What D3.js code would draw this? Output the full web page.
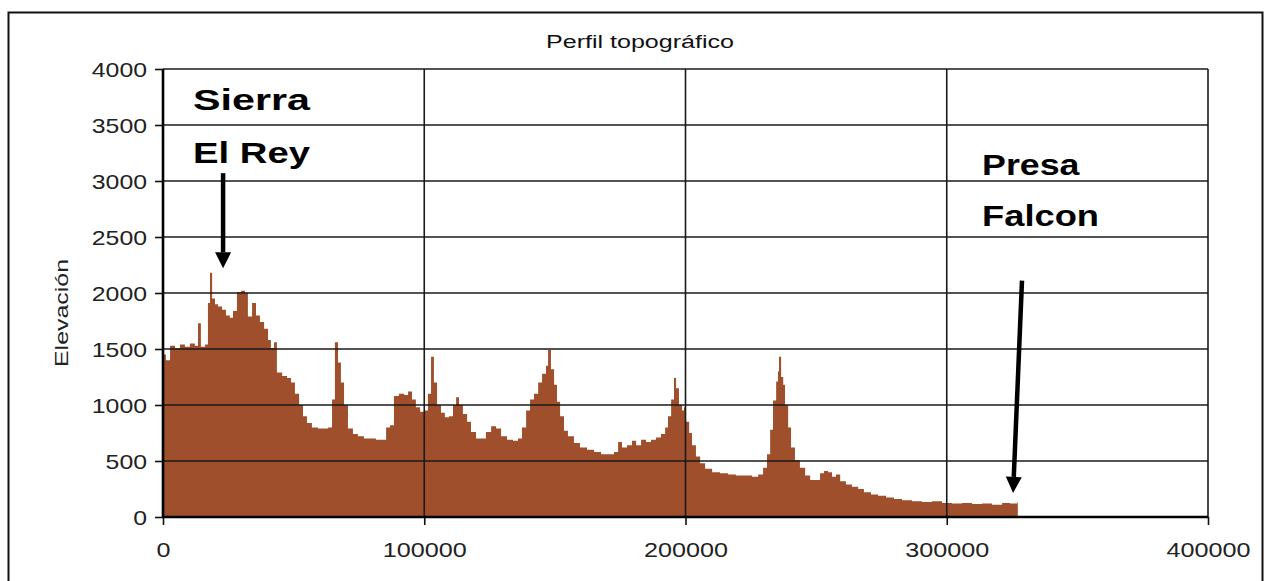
<!DOCTYPE html>
<meta charset="utf-8">
<style>
body { margin: 0; background: #fff; }
text { font-family: "Liberation Sans", Arial, sans-serif; }
.grid line { stroke: #1a1a1a; stroke-width: 1.6px; }
.axis text { fill: #222; font-size: 21px; }
.axis line { stroke: #111; stroke-width: 1.6px; }
.axis path { display: none; }
</style>
<svg width="1266" height="581"></svg>
<script src="https://d3js.org/d3.v7.min.js"></script>
<script>

var distancias = [0, 1100, 2700, 4600, 6500, 8400, 10300, 12200, 13400, 14500, 16100, 17200, 18000, 18800, 19900, 21100, 22600, 24100, 25600, 26800, 28300, 29900, 31400, 32500, 34100, 35600, 37100, 38700, 40200, 41300, 42500, 43600, 45600, 47500, 49000, 50500, 52100, 53600, 55100, 57000, 59300, 61600, 63200, 64700, 65800, 67000, 68100, 69300, 70800, 72700, 74600, 76900, 79200, 81500, 83800, 85400, 86900, 88400, 90300, 92300, 93800, 95300, 96800, 98400, 99900, 101400, 102600, 103700, 104900, 106400, 107900, 109500, 111000, 112200, 113300, 114800, 116400, 117900, 119800, 121700, 123600, 125600, 127500, 129400, 131700, 134000, 135900, 137400, 139000, 140500, 142000, 143600, 145100, 146600, 147400, 148500, 149700, 150800, 152000, 153500, 155000, 157300, 159600, 162300, 165000, 167700, 170300, 172600, 174200, 175700, 177600, 179500, 181100, 183000, 184900, 186800, 188700, 190600, 192200, 193300, 194500, 195600, 196400, 197500, 198700, 199400, 200200, 201400, 202500, 204000, 205600, 207500, 210200, 213200, 216300, 219300, 222400, 225500, 227800, 229700, 231200, 232400, 233500, 234700, 235400, 235800, 236600, 237400, 238100, 239300, 240400, 241900, 243800, 245800, 247700, 249600, 251500, 253000, 254600, 256100, 257600, 259200, 261400, 263700, 266100, 268300, 271000, 273700, 276800, 279800, 282900, 286700, 290500, 294400, 298200, 302000, 305900, 309700, 313500, 317300, 321200, 324200, 326900, 327200];
var elevaciones = [1450, 1400, 1530, 1510, 1540, 1520, 1550, 1530, 1730, 1520, 1540, 1910, 2180, 1950, 1900, 1880, 1850, 1800, 1780, 1840, 2010, 2020, 2000, 1790, 1910, 1800, 1740, 1680, 1580, 1510, 1560, 1290, 1260, 1240, 1200, 1100, 1000, 900, 840, 800, 790, 790, 800, 1050, 1560, 1380, 1200, 1000, 790, 740, 720, 700, 700, 690, 690, 800, 820, 1080, 1100, 1090, 1120, 1050, 980, 940, 950, 1100, 1430, 1200, 1000, 930, 890, 900, 1000, 1070, 1000, 920, 850, 760, 700, 700, 760, 810, 790, 720, 690, 680, 700, 800, 950, 1050, 1100, 1200, 1280, 1350, 1490, 1320, 1180, 1030, 900, 770, 720, 660, 620, 600, 580, 560, 560, 580, 670, 620, 640, 680, 640, 690, 670, 690, 710, 740, 800, 900, 1050, 1240, 1150, 1000, 950, 980, 850, 750, 640, 540, 480, 430, 400, 390, 380, 370, 370, 360, 380, 440, 560, 780, 1040, 1210, 1300, 1430, 1250, 1180, 1000, 800, 620, 510, 440, 370, 330, 330, 390, 410, 400, 360, 380, 320, 290, 270, 250, 220, 200, 190, 175, 160, 150, 140, 135, 140, 125, 120, 125, 115, 120, 110, 125, 120, 130, 0];

var yTicks = [0, 500, 1000, 1500, 2000, 2500, 3000, 3500, 4000];
var xTicks = [0, 100000, 200000, 300000, 400000];

var titulo = "Perfil topográfico";
var tituloY = "Elevación";

// etiquetas: texto, distancia, elevación de la línea base
var etiquetas = [
  ["Sierra", 11500, 3635],
  ["El Rey", 11500, 3161],
  ["Presa", 313500, 3054],
  ["Falcon", 313500, 2599]
];
// flechas: distancia y elevación de inicio y de punta
var flechas = [
  [23000, 3070, 23000, 2220],
  [328800, 2110, 325400, 215]
];

var svg = d3.select("svg");

var x = d3.scaleLinear().domain([0, 400000]).range([163, 1208]);
var y = d3.scaleLinear().domain([0, 4000]).range([517, 69]);

// marco exterior
svg.append("rect")
    .attr("x", 8.5).attr("y", 12.5)
    .attr("width", 1254).attr("height", 620)
    .attr("fill", "none").attr("stroke", "#111").attr("stroke-width", 2);

svg.append("text")
    .attr("x", 640).attr("y", 48)
    .attr("text-anchor", "middle")
    .attr("font-size", 18)
    .attr("textLength", 188)
    .attr("lengthAdjust", "spacingAndGlyphs")
    .attr("fill", "#111")
    .text(titulo);

svg.append("text")
    .attr("transform", "translate(68,313) rotate(-90)")
    .attr("text-anchor", "middle")
    .attr("font-size", 19)
    .attr("textLength", 108)
    .attr("lengthAdjust", "spacingAndGlyphs")
    .attr("fill", "#222")
    .text(tituloY);

// perfil
var area = d3.area()
    .x(function(d, i) { return x(distancias[i]); })
    .y0(y(0))
    .y1(function(d) { return y(d); })
    .curve(d3.curveStepAfter);

svg.append("path")
    .datum(elevaciones)
    .attr("fill", "#9f4f2b")
    .attr("d", area);

// rejilla
var grid = svg.append("g").attr("class", "grid");
grid.selectAll(".h").data(yTicks.slice(1)).enter().append("line")
    .attr("x1", x(0)).attr("x2", x(400000))
    .attr("y1", function(d) { return y(d); })
    .attr("y2", function(d) { return y(d); });
grid.selectAll(".v").data(xTicks.slice(1)).enter().append("line")
    .attr("x1", function(d) { return x(d); })
    .attr("x2", function(d) { return x(d); })
    .attr("y1", y(4000)).attr("y2", y(0));

// ejes
var gy = svg.append("g").attr("class", "axis")
    .attr("transform", "translate(" + x(0) + ",0)")
    .call(d3.axisLeft(y).tickValues(yTicks).tickSize(8).tickPadding(8).tickFormat(d3.format("d")));
gy.selectAll("text")
    .attr("dy", "0.36em")
    .attr("lengthAdjust", "spacingAndGlyphs")
    .attr("textLength", function(d) { return String(d).length * 13.8; });

var gx = svg.append("g").attr("class", "axis")
    .attr("transform", "translate(0," + y(0) + ")")
    .call(d3.axisBottom(x).tickValues(xTicks).tickSize(8).tickFormat(d3.format("d")));
gx.selectAll("text")
    .attr("y", 40).attr("dy", 0)
    .attr("lengthAdjust", "spacingAndGlyphs")
    .attr("textLength", function(d) { return String(d).length * 14; });

svg.append("line")
    .attr("x1", x(0)).attr("x2", x(0))
    .attr("y1", y(4000)).attr("y2", y(0))
    .attr("stroke", "#000").attr("stroke-width", 2.6);
svg.append("line")
    .attr("x1", x(0)).attr("x2", x(400000))
    .attr("y1", y(0)).attr("y2", y(0))
    .attr("stroke", "#000").attr("stroke-width", 2.6);

// anotaciones
svg.selectAll(".etq").data(etiquetas).enter().append("text")
    .attr("x", function(d) { return x(d[1]); })
    .attr("y", function(d) { return y(d[2]); })
    .attr("font-size", 30)
    .attr("font-weight", "bold")
    .attr("fill", "#000")
    .attr("lengthAdjust", "spacingAndGlyphs")
    .attr("textLength", function(d) { return d[0].length * 19.5; })
    .text(function(d) { return d[0]; });

flechas.forEach(function(f) {
  var x1 = x(f[0]), y1 = y(f[1]), x2 = x(f[2]), y2 = y(f[3]);
  var ang = Math.atan2(y2 - y1, x2 - x1);
  var hl = 16, hw = 8;
  var bx = x2 - hl * Math.cos(ang), by = y2 - hl * Math.sin(ang);
  svg.append("line")
      .attr("x1", x1).attr("y1", y1).attr("x2", bx).attr("y2", by)
      .attr("stroke", "#000").attr("stroke-width", 4.5);
  var px = -Math.sin(ang) * hw, py = Math.cos(ang) * hw;
  svg.append("path")
      .attr("d", "M" + x2 + "," + y2 + "L" + (bx + px) + "," + (by + py) + "L" + (bx - px) + "," + (by - py) + "Z")
      .attr("fill", "#000");
});

</script>
